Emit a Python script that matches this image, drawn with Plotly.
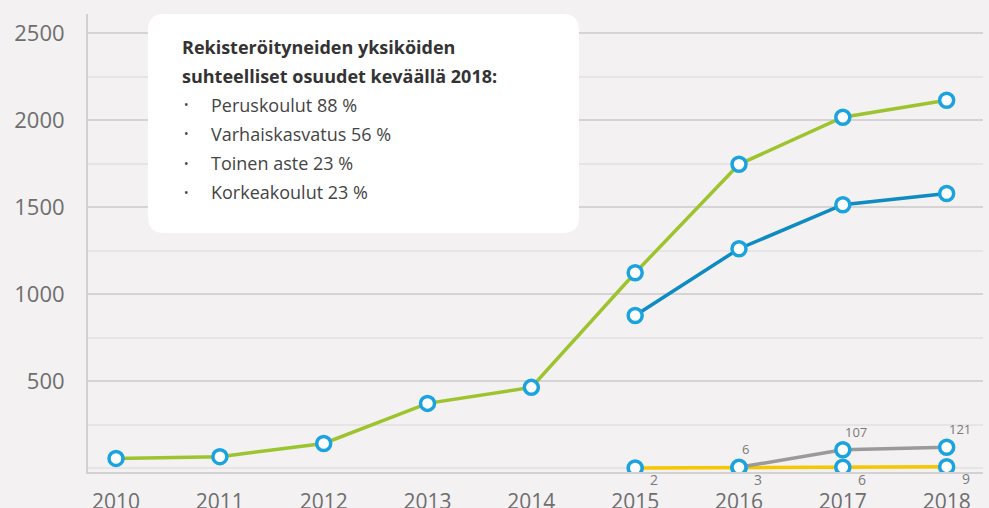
import plotly.graph_objects as go

years = [2010, 2011, 2012, 2013, 2014, 2015, 2016, 2017, 2018]
peruskoulut = [57, 67, 143, 373, 465, 1123, 1746, 2016, 2114]
varhais_years = [2015, 2016, 2017, 2018]
varhaiskasvatus = [878, 1261, 1514, 1578]
toinen_years = [2016, 2017, 2018]
toinen_aste = [6, 107, 121]
korkea_years = [2015, 2016, 2017, 2018]
korkeakoulut = [2, 3, 6, 9]
y_ticks = [500, 1000, 1500, 2000, 2500]

box_title = ["Rekisteröityneiden yksiköiden", "suhteelliset osuudet keväällä 2018:"]
box_items = ["Peruskoulut 88 %", "Varhaiskasvatus 56 %", "Toinen aste 23 %", "Korkeakoulut 23 %"]

BG = "#F3F1F2"
MARK = dict(size=14, color="white", line=dict(color="#1BA3DF", width=3.5))
FONT = "Open Sans"

fig = go.Figure()
fig.add_trace(go.Scatter(x=korkea_years, y=korkeakoulut, mode="lines+markers",
                         line=dict(color="#F6C600", width=3.5), marker=MARK))
fig.add_trace(go.Scatter(x=toinen_years, y=toinen_aste, mode="lines+markers",
                         line=dict(color="#9A9A9A", width=3.5), marker=MARK))
fig.add_trace(go.Scatter(x=years, y=peruskoulut, mode="lines+markers",
                         line=dict(color="#9DC42E", width=3.5), marker=MARK))
fig.add_trace(go.Scatter(x=varhais_years, y=varhaiskasvatus, mode="lines+markers",
                         line=dict(color="#0E8BC2", width=3.5), marker=MARK))

W, H = 989, 508
L, R, T, B = 88, 6, 14, 36
pw, ph = W - L - R, H - T - B

def px2paper(px, py):
    return (px - L) / pw, (H - B - py) / ph

annotations = []
for xv, yv in zip(toinen_years, toinen_aste):
    annotations.append(dict(x=xv, y=yv, xref="x", yref="y", text=str(yv), showarrow=False,
                            xshift=13 if yv > 9 else 6, yshift=18,
                            font=dict(family=FONT, size=13, color="#7A7A7A")))
for xv, yv in zip(korkea_years, korkeakoulut):
    annotations.append(dict(x=xv, y=yv, xref="x", yref="y", text=str(yv), showarrow=False,
                            xshift=19, yshift=-12,
                            font=dict(family=FONT, size=14, color="#7A7A7A")))

# info box text
tx, _ = px2paper(180, 0)
bx, _ = px2paper(186, 0)
ix, _ = px2paper(209, 0)
for i, t in enumerate(box_title):
    _, yy = px2paper(0, 47 + 29 * i)
    annotations.append(dict(x=tx, y=yy, xref="paper", yref="paper", text="<b>" + t + "</b>",
                            showarrow=False, xanchor="left", yanchor="middle",
                            font=dict(family=FONT, size=18, color="#333333")))
for i, t in enumerate(box_items):
    _, yy = px2paper(0, 105 + 29 * i)
    annotations.append(dict(x=bx, y=yy, xref="paper", yref="paper", text="•",
                            showarrow=False, xanchor="center", yanchor="middle",
                            font=dict(family=FONT, size=12, color="#444444")))
    annotations.append(dict(x=ix, y=yy, xref="paper", yref="paper", text=t,
                            showarrow=False, xanchor="left", yanchor="middle",
                            font=dict(family=FONT, size=18, color="#444444")))

# rounded rectangle path
x0, y0 = px2paper(148, 233)
x1, y1 = px2paper(579, 14)
rx, ry = 16 / pw, 16 / ph
path = (f"M {x0+rx},{y0} L {x1-rx},{y0} Q {x1},{y0} {x1},{y0+ry} "
        f"L {x1},{y1-ry} Q {x1},{y1} {x1-rx},{y1} L {x0+rx},{y1} Q {x0},{y1} {x0},{y1-ry} "
        f"L {x0},{y0+ry} Q {x0},{y0} {x0+rx},{y0} Z")

fig.update_layout(
    width=W, height=H,
    margin=dict(l=L, r=R, t=T, b=B, autoexpand=False),
    paper_bgcolor=BG, plot_bgcolor=BG,
    showlegend=False,
    annotations=annotations,
    shapes=[dict(type="path", path=path, xref="paper", yref="paper",
                 fillcolor="white", line=dict(width=0), layer="above")],
    xaxis=dict(range=[2009.73, 2018.35], tickvals=years, ticktext=[str(y) for y in years],
               showgrid=False, zeroline=False, showline=True, linecolor="#D3D1D2", linewidth=2,
               ticks="outside", ticklen=10, tickcolor="rgba(0,0,0,0)",
               tickfont=dict(family=FONT, size=21, color="#6E6E6E")),
    yaxis=dict(range=[-21, 2609], tickvals=y_ticks, showgrid=True, gridcolor="#D5D3D4", gridwidth=2,
               minor=dict(dtick=250, tick0=0, showgrid=True, gridcolor="#E6E4E5", gridwidth=1.5),
               zeroline=False, showline=True, linecolor="#D3D1D2", linewidth=2,
               ticks="outside", ticklen=0, ticklabelstandoff=17,
               tickfont=dict(family=FONT, size=22, color="#6E6E6E")),
)

fig.write_html("out.html", config={"displayModeBar": False},
               post_script="document.body.style.margin='0';")
